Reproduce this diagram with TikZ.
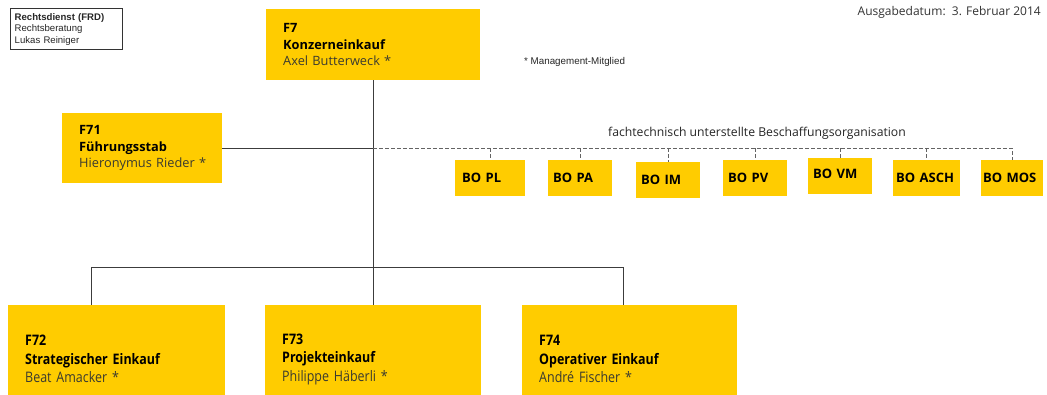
\documentclass[tikz,border=0pt]{standalone}
\usepackage{fontspec}
\setmainfont{Open Sans}
\newfontfamily\condfont[FakeStretch=0.86]{Open Sans}
\newfontfamily\arialfont{Liberation Sans}
\definecolor{boxyellow}{HTML}{FFCC00}
\definecolor{linegray}{HTML}{3C3C3C}
\definecolor{namegray}{HTML}{3A3A30}
\begin{document}
\begin{tikzpicture}[x=1pt,y=-1pt,
  ybox/.style={fill=boxyellow, draw=none, anchor=north west, inner xsep=17pt, inner ysep=0pt, align=left, font=\fontsize{12.8}{16.5}\selectfont, text=black},
  cbox/.style={ybox, font=\condfont\fontsize{14.5}{18.5}\selectfont},
  bobox/.style={fill=boxyellow, draw=none, anchor=north west, minimum height=36pt, inner xsep=7pt, inner ysep=0pt, align=left, font=\bfseries\fontsize{13}{16}\selectfont, text=black},
  solidline/.style={draw=linegray, line width=0.9pt},
  dashline/.style={draw=linegray!80, line width=0.9pt, dash pattern=on 4pt off 2pt}
]
\useasboundingbox (0,0) rectangle (1047,394);
\fill[white] (0,0) rectangle (1047,394);

% legal box
\node[draw=black!80, line width=1.4pt, anchor=north west, minimum width=112pt, minimum height=41pt, inner xsep=3pt, inner ysep=2pt, text width=104pt, align=left, font=\arialfont\fontsize{9.6}{11.5}\selectfont, text=black!85] (frd) at (10,8)
  {\textbf{Rechtsdienst (FRD)}\\Rechtsberatung\\Lukas Reiniger};

% date
\node[anchor=north east, font=\fontsize{12}{14}\selectfont, text=black!80, inner sep=0pt] (date) at (1041,6) {Ausgabedatum:\ \ 3. Februar 2014};

% legend
\node[anchor=west, font=\arialfont\fontsize{9.8}{11}\selectfont, text=black!85, inner sep=0pt] (legend) at (524,62) {* Management-Mitglied};

% top boxes
\node[ybox, minimum width=214pt, minimum height=71pt, text width=180pt] (f7) at (266,9)
  {\textbf{F7}\\\textbf{Konzerneinkauf}\\{\color{namegray}Axel Butterweck *}};
\node[ybox, minimum width=160pt, minimum height=70pt, text width=126pt] (f71) at (62,113)
  {\textbf{F71}\\\textbf{Führungsstab}\\{\color{namegray}\mbox{Hieronymus Rieder *}}};

% bottom boxes
\node[cbox, minimum width=217pt, minimum height=108pt, text width=183pt] (f72) at (8,305)
  {\textbf{F72}\\\textbf{Strategischer Einkauf}\\{\color{namegray}Beat Amacker *}};
\node[cbox, minimum width=216pt, minimum height=108pt, text width=182pt] (f73) at (265,305)
  {\textbf{F73}\\\textbf{Projekteinkauf}\\{\color{namegray}Philippe Häberli *}};
\node[cbox, minimum width=215pt, minimum height=108pt, text width=181pt] (f74) at (522,305)
  {\textbf{F74}\\\textbf{Operativer Einkauf}\\{\color{namegray}André Fischer *}};

% BO boxes
\node[bobox, minimum width=70pt, text width=56pt, inner xsep=7pt] (bopl) at (455,160) {BO PL};
\node[bobox, minimum width=64pt, text width=54pt, inner xsep=5pt] (bopa) at (548,160) {BO PA};
\node[bobox, minimum width=64pt, text width=54pt, inner xsep=5pt] (boim) at (636,162) {\raisebox{-2pt}{BO IM}};
\node[bobox, minimum width=64pt, text width=54pt, inner xsep=5pt] (bopv) at (723,160) {BO PV};
\node[bobox, minimum width=64pt, text width=54pt, inner xsep=5pt] (bovm) at (808,158) {\raisebox{4pt}{BO VM}};
\node[bobox, minimum width=67pt, text width=61pt, inner xsep=3pt] (boasch) at (893,160) {\mbox{BO ASCH}};
\node[bobox, minimum width=62pt, text width=58pt, inner xsep=2pt] (bomos) at (981,160) {\mbox{BO MOS}};

% label of dashed line
\node[anchor=base, font=\fontsize{12.2}{14}\selectfont, text=black!85, inner sep=0pt] (fachlabel) at (757,136) {fachtechnisch unterstellte Beschaffungsorganisation};

% connectors
\coordinate (hub) at (f7.south |- f71.east);
\coordinate (barL) at (91,267);
\coordinate (barR) at (623,267);
\coordinate (dashR) at (bomos.north |- hub);

\draw[solidline] (f7.south) -- (f73.north);
\draw[solidline] (f71.east) -- (hub);
\draw[solidline] (barL) -- (barR);
\draw[solidline] (barL) -- (barL |- f72.north);
\draw[solidline] (barR) -- (barR |- f74.north);

\draw[dashline] (hub) -- (dashR) -- (bomos.north);
\foreach \b in {bopl,bopa,boim,bopv,bovm,boasch}
  \draw[dashline] (\b.north |- hub) -- (\b.north);
\end{tikzpicture}
\end{document}
